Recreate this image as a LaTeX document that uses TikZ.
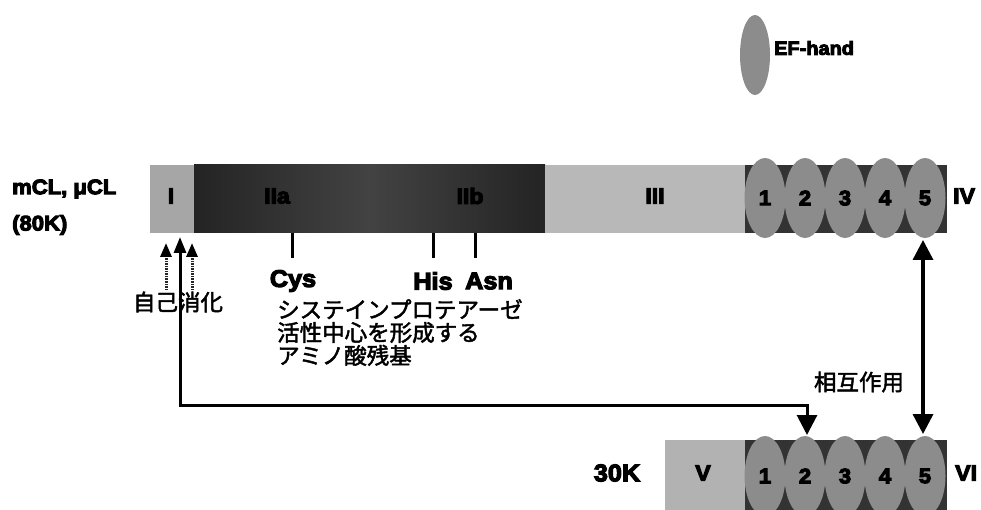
\documentclass[tikz,border=0pt]{standalone}
\usepackage{fontspec}
\setmainfont{Liberation Sans}
\newfontfamily\hv[FakeBold=5,FakeStretch=1.05]{Liberation Sans Bold}
\newfontfamily\jp[FakeBold=2]{Noto Sans CJK JP}
\usetikzlibrary{arrows.meta,shapes.geometric}
\tikzset{
  lab/.style={font=\hv\fontsize{21}{21}\selectfont, inner sep=0pt},
  biglab/.style={font=\hv\fontsize{24}{24}\selectfont, inner sep=0pt},
  rnum/.style={font=\hv\fontsize{22}{22}\selectfont, inner sep=0pt},
  jptxt/.style={font=\jp\fontsize{22.5}{23}\selectfont, inner sep=0pt},
  region/.style={anchor=north west, inner sep=0pt, outer sep=0pt},
  efell/.style={ellipse, minimum width=41pt, minimum height=80pt, inner sep=0pt, fill=black!45, font=\hv\fontsize{21}{21}\selectfont},
  tickline/.style={line width=3pt},
  bigarrow/.style={line width=3.5pt, {Triangle[width=20pt,length=20pt]}-{Triangle[width=20pt,length=20pt]}},
  smallarrow/.style={line width=3pt, black!85, dash pattern=on 1.5pt off 1pt, -{Triangle[width=11pt,length=14pt,color=black]}}
}
\begin{document}
\begin{tikzpicture}[x=1pt,y=-1pt]
\useasboundingbox (0,0) rectangle (981,510);

% legend
\node[ellipse, minimum width=30pt, minimum height=80pt, inner sep=0pt, fill=black!45] (leg) at (755,55) {};
\node[anchor=west, inner sep=0pt, font=\hv\fontsize{19}{19}\selectfont] (legt) at (774,48) {EF-hand};

% left labels
\node[lab, anchor=west] (mcl) at (12,189) {mCL, μCL};
\node[lab, anchor=west] (k80) at (12,225) {(80K)};

% upper bar
\node[region, fill=black!35, minimum width=44pt, minimum height=68pt] (r1) at (150,165) {};
\node[region, left color=black!86, right color=black!86, middle color=black!74, minimum width=351pt, minimum height=68pt] (r2) at (194,165) {};
\node[region, fill=black!28, minimum width=200pt, minimum height=68pt] (r3) at (545,165) {};
\node[region, fill=black!80, minimum width=202pt, minimum height=68pt] (r4) at (745,165) {};
\node[rnum] (lI) at (171,196) {I};
\node[rnum, text=black] (lIIa) at (277,196) {IIa};
\node[rnum, text=black] (lIIb) at (470,196) {IIb};
\node[rnum] (lIII) at (655,196) {III};
\foreach \i/\x in {1/765,2/805,3/845,4/885,5/925}{
  \node[efell] (u\i) at (\x,198) {\i};
}
\node[rnum, anchor=west] (lIV) at (953,196) {IV};

% lower bar
\node[biglab] (k30) at (617,473) {30K};
\node[region, fill=black!30, minimum width=80pt, minimum height=72pt] (s1) at (665,440) {};
\node[region, fill=black!80, minimum width=202pt, minimum height=72pt] (s2) at (745,440) {};
\node[rnum] (lV) at (703,473) {V};
\foreach \i/\x in {1/765,2/805,3/845,4/885,5/925}{
  \node[efell] (d\i) at (\x,476) {\i};
}
\node[rnum, anchor=west] (lVI) at (955,473) {VI};

% catalytic residues
\coordinate (cysT) at (292,233); \coordinate (cysB) at (292,258);
\coordinate (hisT) at (433,233); \coordinate (hisB) at (433,258);
\coordinate (asnT) at (475,233); \coordinate (asnB) at (475,258);
\draw[tickline] (cysT) -- (cysB);
\draw[tickline] (hisT) -- (hisB);
\draw[tickline] (asnT) -- (asnB);
\node[biglab] (cys) at (293,281) {Cys};
\node[biglab] (his) at (433,281) {His};
\node[biglab] (asn) at (489,281) {Asn};
\node[jptxt, anchor=north west, align=left] (desc) at (277,299) {システインプロテアーゼ\\活性中心を形成する\\アミノ酸残基};

% autolysis
\node[jptxt] (auto) at (178,302) {自己消化};
\coordinate (a1b) at (166,290); \coordinate (a1t) at (166,243);
\coordinate (a3b) at (192,290); \coordinate (a3t) at (192,243);
\draw[smallarrow] (a1b) -- (a1t);
\draw[smallarrow] (a3b) -- (a3t);
\coordinate (mt) at (180,237);
\coordinate (mb) at (180,405);
\coordinate (d2t) at (807,435);
\draw[line width=3pt, {Triangle[width=12pt,length=16pt]}-{Triangle[width=20pt,length=20pt]}] (mt) -- (mb) -| (d2t);

% interaction
\coordinate (iu) at (923,240);
\coordinate (id) at (923,434);
\draw[bigarrow] (iu) -- (id);
\node[jptxt] (inter) at (859,382) {相互作用};
\end{tikzpicture}
\end{document}
